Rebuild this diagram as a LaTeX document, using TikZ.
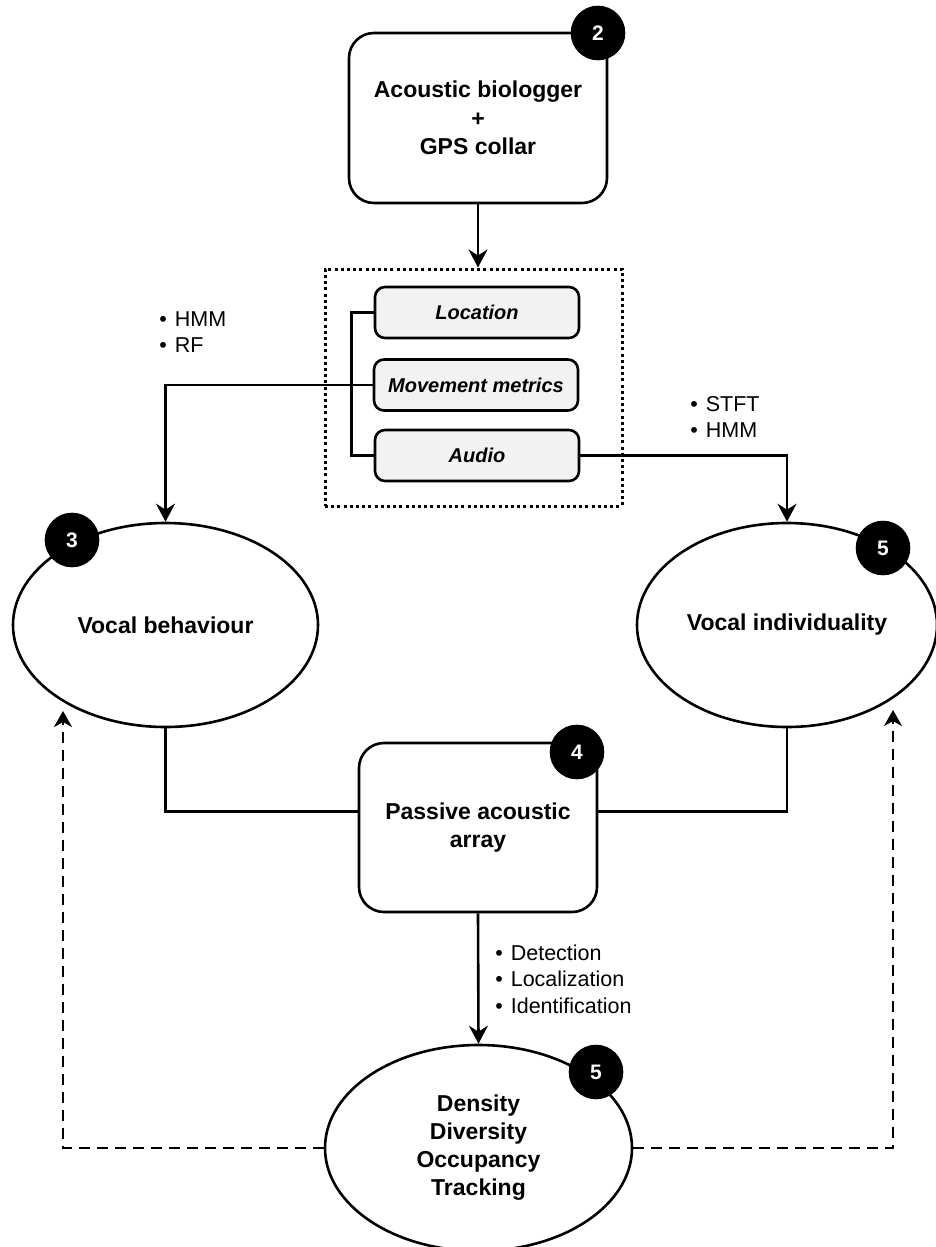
\documentclass[tikz,border=0pt]{standalone}
\usepackage{fontspec}
\setmainfont{Liberation Sans}
\usetikzlibrary{arrows.meta,shapes.geometric,calc}
\definecolor{lightfill}{HTML}{F2F2F2}
\begin{document}
\begin{tikzpicture}[x=1pt,y=-1pt,
  line width=2.6pt,
  bigbox/.style={draw, rounded corners=25pt, line width=2.6pt, align=center, inner sep=0pt,
    font=\bfseries\fontsize{23}{28.5}\selectfont},
  smallbox/.style={draw, fill=lightfill, rounded corners=10pt, line width=2.6pt, inner sep=0pt,
    minimum width=204pt, minimum height=51pt, font=\bfseries\itshape\fontsize{20}{24}\selectfont},
  oval/.style={ellipse, draw, line width=2.6pt, inner sep=0pt, align=center,
    font=\bfseries\fontsize{23}{28}\selectfont},
  badge/.style={circle, draw=black, fill=black, text=white, inner sep=0pt, minimum size=52pt,
    font=\bfseries\fontsize{21}{21}\selectfont},
  grpbox/.style={draw, line width=3pt, dash pattern=on 3pt off 3.2pt, inner sep=0pt},
  listlabel/.style={align=left, inner sep=0pt, font=\fontsize{21.5}{26.5}\selectfont},
  arr/.style={-{Stealth[length=18pt,width=19pt,inset=6pt]}},
  dasharr/.style={-{Stealth[length=16pt,width=18pt,inset=5pt]}, dash pattern=on 11pt off 7pt}
]
\useasboundingbox (0,0) rectangle (935,1247);

% top box
\node[bigbox, minimum width=258pt, minimum height=170pt] (top) at (478,118)
  {Acoustic biologger\\+\\GPS collar};
\node[badge] (b2) at (598,33) {2};

% group box
\node[grpbox, minimum width=297pt, minimum height=237pt] (grp) at (473.5,387.5) {};
\node[smallbox] (loc) at (477,312.5) {Location};
\node[smallbox] (mov) at (476,385) {Movement metrics};
\node[smallbox] (aud) at (477,455.5) {Audio};

\draw[arr] (top.south) -- (top.south |- grp.north);

% bracket
\draw (loc.west) -- ++(-22,0) |- (aud.west);

% ellipses
\node[oval, minimum width=305pt, minimum height=204pt] (vb) at (165.5,625) {Vocal behaviour};
\node[badge] (b3) at (72,540) {3};
\node[oval, minimum width=300pt, minimum height=204pt] (vi) at (787,625) {Vocal individuality};
\node[badge] (b5a) at (883,548) {5};

\draw[arr] (mov.west) -| (vb.north);
\draw[arr] (aud.east) -| (vi.north);

\node[listlabel, anchor=west] (lab1) at (158,332) {\textbullet\hspace{8pt}HMM\\\textbullet\hspace{8pt}RF};
\node[listlabel, anchor=west] (lab2) at (689,417) {\textbullet\hspace{8pt}STFT\\\textbullet\hspace{8pt}HMM};

% passive acoustic array
\node[bigbox, minimum width=238pt, minimum height=169pt] (paa) at (478,827.5)
  {Passive acoustic\\array};
\node[badge] (b4) at (577,752) {4};

\draw (vb.south) |- ($(paa.west)+(0,-16)$);
\draw (vi.south) |- ($(paa.east)+(0,-16)$);

% density
\node[oval, minimum width=307pt, minimum height=206pt] (dens) at (478.5,1148)
  {Density\\Diversity\\Occupancy\\Tracking};
\node[badge] (b5b) at (596,1072) {5};

\draw[arr] (paa.south) -- (dens.north);
\node[listlabel, anchor=west] (lab3) at (494,979)
  {\textbullet\hspace{8pt}Detection\\\textbullet\hspace{8pt}Localization\\\textbullet\hspace{8pt}Identification};

\coordinate (vbin) at (63,711);
\coordinate (viin) at (893,710);
\draw[dasharr] (dens.west) -| (vbin);
\draw[dasharr] (dens.east) -| (viin);
\end{tikzpicture}
\end{document}
